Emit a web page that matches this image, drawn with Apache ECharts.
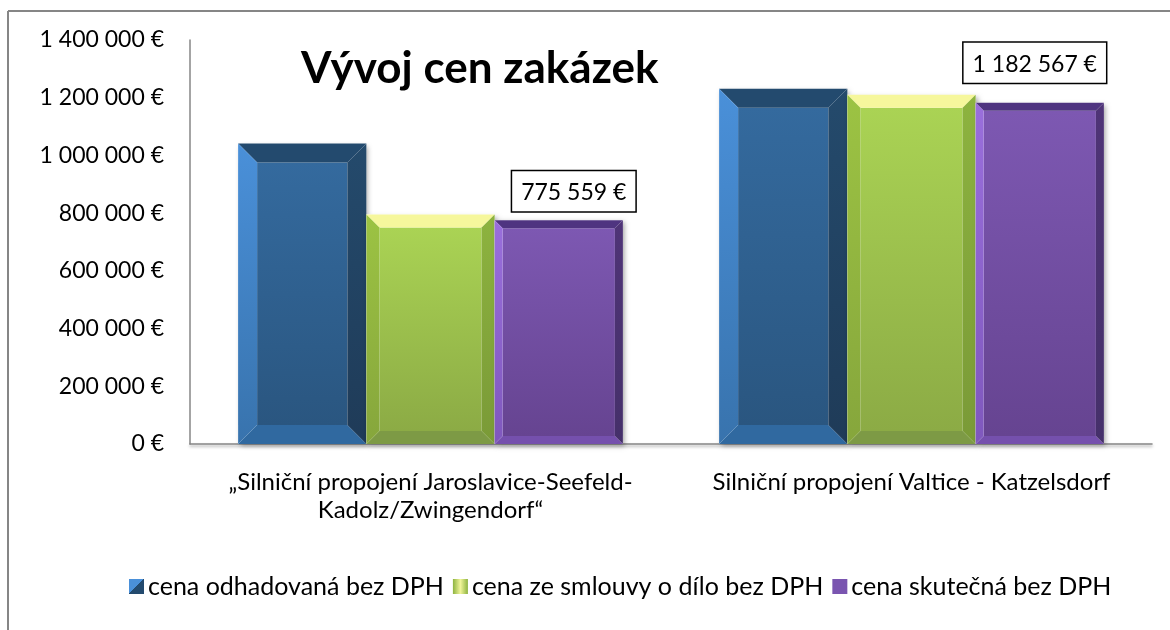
<!DOCTYPE html>
<html>
<head>
<meta charset="utf-8">
<script src="https://cdn.jsdelivr.net/npm/echarts@6/dist/echarts.min.js"></script>
<style>
  html, body { margin: 0; padding: 0; background: #fff; }
  #chart { width: 1170px; height: 630px; }
</style>
</head>
<body>
<div id="chart"></div>
<script>
// data
const categories = [
  '„Silniční propojení Jaroslavice-Seefeld-\nKadolz/Zwingendorf“',
  'Silniční propojení Valtice - Katzelsdorf',
]
const seriesNames = [
  'cena odhadovaná bez DPH',
  'cena ze smlouvy o dílo bez DPH',
  'cena skutečná bez DPH',
]
const estimated = [1041000, 1231000]
const contract = [795000, 1210000]
const actual = [775559, 1182567]
const yTicks = { min: 0, max: 1400000, interval: 200000 }

const FONT = 'Lato, "Open Sans", sans-serif'
const G = echarts.graphic

// 1 182 567 €
const fmt = (v) => String(v).replace(/\B(?=(\d{3})+(?!\d))/g, ' ') + ' €'

const lin = (a, b) => new G.LinearGradient(0, 0, 0, 1, [
  { offset: 0, color: a },
  { offset: 1, color: b },
])

// bevel looks per series
const looks = [
  {
    bevel: 19,
    top: '#234a6e',
    left: lin('#4a90d9', '#3873ad'),
    right: lin('#244a6c', '#1f3b58'),
    bottom: '#3069a0',
    face: lin('#346a9e', '#2a5680'),
    legend: new G.LinearGradient(0, 0, 1, 1, [
      { offset: 0, color: '#4a90d9' }, { offset: 0.5, color: '#4a90d9' },
      { offset: 0.5, color: '#234a6e' }, { offset: 1, color: '#234a6e' },
    ]),
  },
  {
    bevel: 13,
    top: '#f6f79c',
    left: lin('#9cc343', '#86a63c'),
    right: lin('#8db33f', '#7a9a37'),
    bottom: '#7d9a45',
    face: lin('#aad354', '#8cab45'),
    legend: new G.LinearGradient(0, 0, 1, 0, [
      { offset: 0, color: '#8db33f' }, { offset: 0.5, color: '#f1f59a' }, { offset: 1, color: '#8db33f' },
    ]),
  },
  {
    bevel: 8,
    top: '#4f3480',
    left: lin('#9a6fdc', '#7f58bd'),
    right: lin('#4f3477', '#45306a'),
    bottom: '#7550ad',
    face: lin('#7d58b2', '#664491'),
    legend: '#7a55b0',
  },
]

// label box nudges (px), as placed in the original
const labelShift = [[15, -9], [-5, -20]]

function renderBevelBar(params, api) {
  const s = params.seriesIndex
  const look = looks[s]
  const cat = api.value(0)
  const val = api.value(1)
  const base = api.coord([cat, 0])
  const top = api.coord([cat, val])
  const band = api.size([1, 0])[0]
  const groupW = band * 0.8
  const barW = groupW / 3
  const x0 = base[0] - groupW / 2 + s * barW
  const x1 = x0 + barW
  const y0 = top[1]
  const y1 = base[1]
  const b = Math.min(look.bevel, (y1 - y0) / 2)
  const poly = (pts, fill) => ({ type: 'polygon', shape: { points: pts }, style: { fill } })

  const children = [
    {
      type: 'rect',
      shape: { x: x0, y: y0, width: barW, height: y1 - y0 },
      style: { fill: '#fff', shadowBlur: 5, shadowOffsetX: 2, shadowOffsetY: 2, shadowColor: 'rgba(0,0,0,0.35)' },
    },
    { type: 'rect', shape: { x: x0 + b, y: y0 + b, width: barW - 2 * b, height: y1 - y0 - 2 * b }, style: { fill: look.face } },
    poly([[x0, y0], [x1, y0], [x1 - b, y0 + b], [x0 + b, y0 + b]], look.top),
    poly([[x0, y1], [x1, y1], [x1 - b, y1 - b], [x0 + b, y1 - b]], look.bottom),
    poly([[x0, y0], [x0 + b, y0 + b], [x0 + b, y1 - b], [x0, y1]], look.left),
    poly([[x1, y0], [x1, y1], [x1 - b, y1 - b], [x1 - b, y0 + b]], look.right),
  ]

  if (s === 2) {
    const sh = labelShift[cat]
    children.push({
      type: 'text',
      z2: 10,
      style: {
        text: fmt(val),
        x: (x0 + x1) / 2 + sh[0],
        y: y0 + sh[1],
        align: 'center',
        verticalAlign: 'bottom',
        font: '23px ' + FONT,
        fill: '#000',
        backgroundColor: '#fff',
        borderColor: '#000',
        borderWidth: 1.5,
        padding: [10, 9, 7, 9],
      },
    })
  }
  return { type: 'group', children }
}

const chart = echarts.init(document.getElementById('chart'), null, { renderer: 'canvas' })

const seriesData = [estimated, contract, actual]

chart.setOption({
  backgroundColor: '#fff',
  animation: false,
  title: {
    text: 'Vývoj cen zakázek',
    left: 296,
    top: 42,
    textStyle: { fontFamily: FONT, fontSize: 44, fontWeight: 'bold', color: '#000' },
  },
  legend: {
    data: seriesNames,
    left: 124,
    top: 569,
    itemWidth: 15,
    itemHeight: 15,
    itemGap: 9,
    icon: 'rect',
    textStyle: { fontFamily: FONT, fontSize: 25, color: '#000', padding: [0, 0, 0, -1] },
  },
  grid: { left: 190, right: 18, top: 40, bottom: 186, containLabel: false },
  xAxis: {
    type: 'category',
    data: categories,
    axisLine: { lineStyle: { color: '#868686', width: 1.5, shadowColor: 'rgba(0,0,0,0.35)', shadowBlur: 3, shadowOffsetY: 2 } },
    axisTick: { show: false },
    axisLabel: { fontFamily: FONT, fontSize: 24, color: '#000', margin: 24, lineHeight: 28, interval: 0, hideOverlap: false },
  },
  yAxis: {
    type: 'value',
    min: yTicks.min,
    max: yTicks.max,
    interval: yTicks.interval,
    splitLine: { show: false },
    axisLine: { show: true, lineStyle: { color: '#868686', width: 1.5 } },
    axisTick: { show: false },
    axisLabel: { fontFamily: FONT, fontSize: 23, color: '#000', margin: 26, formatter: fmt },
  },
  graphic: [
    { type: 'line', shape: { x1: 8, y1: 11, x2: 8, y2: 630 }, style: { stroke: '#868686', lineWidth: 2 } },
    { type: 'line', shape: { x1: 8, y1: 11, x2: 1170, y2: 11 }, style: { stroke: '#868686', lineWidth: 2 } },
  ],
  series: seriesNames.map((name, i) => ({
    name,
    type: 'custom',
    renderItem: renderBevelBar,
    encode: { x: 0, y: 1 },
    itemStyle: { color: looks[i].legend },
    data: seriesData[i].map((v, c) => [c, v]),
  })),
})
</script>
</body>
</html>
